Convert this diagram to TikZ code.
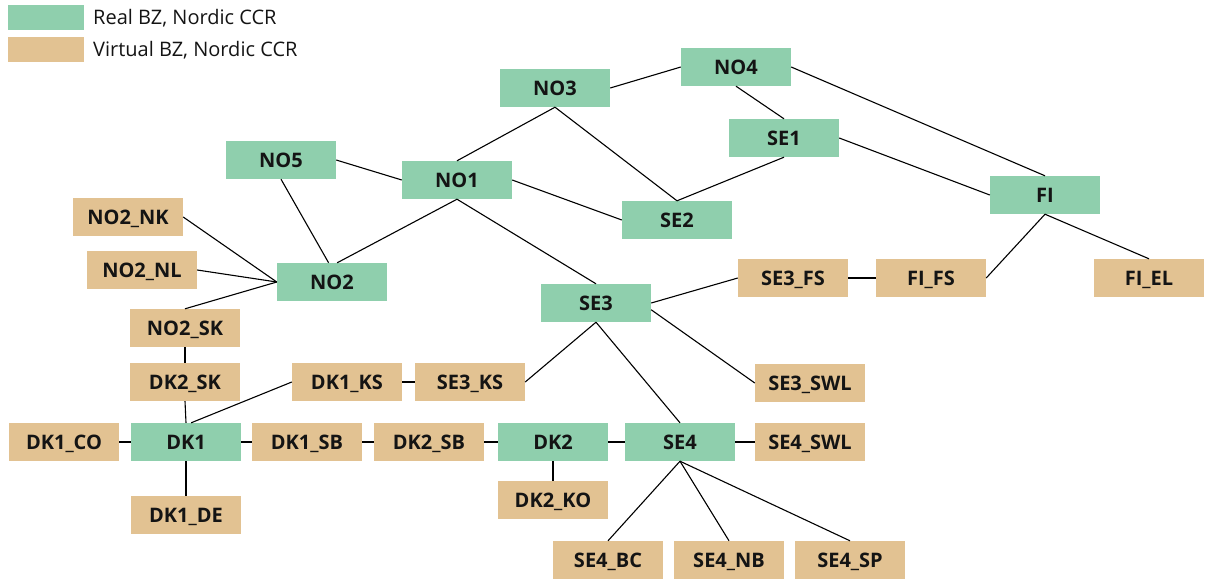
\documentclass[tikz,border=0pt]{standalone}
\usepackage{fontspec}
\setmainfont{Open Sans}
\definecolor{realbz}{HTML}{8FCFAD}
\definecolor{virtbz}{HTML}{E2C292}
\definecolor{txt}{HTML}{141414}
\tikzset{
  zone/.style={minimum width=110pt, minimum height=38pt, inner sep=0pt,
    text height=14pt, text depth=0pt, font=\fontsize{20}{21}\selectfont\bfseries, text=txt},
  realz/.style={zone, fill=realbz},
  virtz/.style={zone, fill=virtbz},
  link/.style={draw=black, line width=1.1pt},
  legtext/.style={anchor=west, inner sep=0pt, font=\fontsize{20}{21}\selectfont, text=txt}
}
\begin{document}
\begin{tikzpicture}[x=1pt,y=-1pt]
\useasboundingbox (0,0) rectangle (1209,579);
% legend
\path[fill=realbz] (8,5) rectangle (84,30);
\path[fill=virtbz] (8,37) rectangle (84,62);
\node[legtext] (legreal) at (93,18.5) {Real BZ, Nordic CCR};
\node[legtext] (legvirt) at (93,50.5) {Virtual BZ, Nordic CCR};
% real zones
\node[realz] (NO3) at (555,88) {NO3};
\node[realz] (NO4) at (736,67) {NO4};
\node[realz] (SE1) at (784,138) {SE1};
\node[realz] (SE2) at (677,220) {SE2};
\node[realz] (NO1) at (457,180) {NO1};
\node[realz] (NO5) at (281,160) {NO5};
\node[realz] (FI) at (1045,195) {FI};
\node[realz] (NO2) at (332,282) {NO2};
\node[realz] (SE3) at (596,303) {SE3};
\node[realz] (DK1) at (186,442) {DK1};
\node[realz] (DK2) at (553,442) {DK2};
\node[realz] (SE4) at (680,442) {SE4};
% virtual zones
\node[virtz] (NO2NK) at (128,217) {NO2\_NK};
\node[virtz] (NO2NL) at (142,270) {NO2\_NL};
\node[virtz] (NO2SK) at (185,328) {NO2\_SK};
\node[virtz] (DK2SK) at (185,382) {DK2\_SK};
\node[virtz] (DK1KS) at (347,382) {DK1\_KS};
\node[virtz] (SE3KS) at (470,382) {SE3\_KS};
\node[virtz] (SE3SWL) at (810,383) {SE3\_SWL};
\node[virtz] (SE3FS) at (793,278) {SE3\_FS};
\node[virtz] (FIFS) at (931,278) {FI\_FS};
\node[virtz] (FIEL) at (1149,278) {FI\_EL};
\node[virtz] (DK1CO) at (64,442) {DK1\_CO};
\node[virtz] (DK1SB) at (307,442) {DK1\_SB};
\node[virtz] (DK2SB) at (429,442) {DK2\_SB};
\node[virtz] (SE4SWL) at (810,442) {SE4\_SWL};
\node[virtz] (DK1DE) at (186,515) {DK1\_DE};
\node[virtz] (DK2KO) at (553,500) {DK2\_KO};
\node[virtz] (SE4BC) at (608,560) {SE4\_BC};
\node[virtz] (SE4NB) at (729,560) {SE4\_NB};
\node[virtz] (SE4SP) at (850,560) {SE4\_SP};
% links
\draw[link] (NO3.east) -- (NO4.west);
\draw[link] (NO4.south) -- (SE1.north);
\draw[link] (NO4.east) -- (FI.north);
\draw[link] (SE1.east) -- (FI.west);
\draw[link] (SE1.south) -- (SE2.north);
\draw[link] (NO3.south) -- (SE2.north);
\draw[link] (NO3.south) -- (NO1.north);
\draw[link] (NO1.east) -- (SE2.west);
\draw[link] (NO5.east) -- (NO1.west);
\draw[link] (NO5.south) -- (NO2.100);
\draw[link] (NO1.south) -- (NO2.75);
\draw[link] (NO1.south) -- (SE3.north);
\draw[link] (NO2NK.east) -- (NO2.west);
\draw[link] (NO2NL.east) -- (NO2.west);
\draw[link] (NO2SK.north) -- (NO2.west);
\draw[link] (NO2SK.south) -- (DK2SK.north);
\draw[link] (DK2SK.south) -- (DK1.north);
\draw[link] (DK1KS.west) -- (DK1.75);
\draw[link] (DK1KS.east) -- (SE3KS.west);
\draw[link] (SE3KS.east) -- (SE3.south);
\draw[link] (SE3.east) -- (SE3FS.west);
\draw[link] (SE3FS.east) -- (FIFS.west);
\draw[link] (FIFS.east) -- (FI.south);
\draw[link] (FI.south) -- (FIEL.north);
\draw[link] (SE3.-7) -- (SE3SWL.west);
\draw[link] (SE3.south) -- (SE4.north);
\draw[link] (DK1CO.east) -- (DK1.west);
\draw[link] (DK1.east) -- (DK1SB.west);
\draw[link] (DK1SB.east) -- (DK2SB.west);
\draw[link] (DK2SB.east) -- (DK2.west);
\draw[link] (DK2.east) -- (SE4.west);
\draw[link] (SE4.east) -- (SE4SWL.west);
\draw[link] (DK1.south) -- (DK1DE.north);
\draw[link] (DK2.south) -- (DK2KO.north);
\draw[link] (SE4.south) -- (SE4BC.north);
\draw[link] (SE4.south) -- (SE4NB.north);
\draw[link] (SE4.south) -- (SE4SP.north);
\end{tikzpicture}
\end{document}
